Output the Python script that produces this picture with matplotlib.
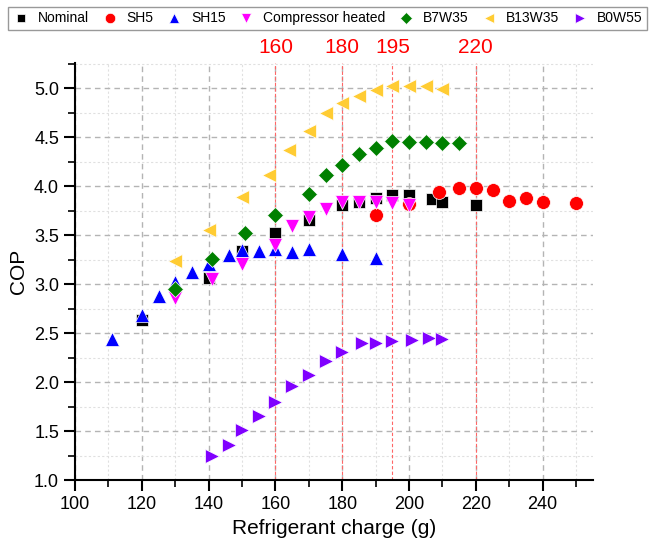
import matplotlib
matplotlib.use("Agg")
import matplotlib.pyplot as plt
from matplotlib.ticker import MultipleLocator
import matplotlib.transforms as mtransforms

plt.rcParams['font.family'] = ['Liberation Sans', 'DejaVu Sans']

# data
nom_x = [120, 140, 150, 160, 170, 180, 185, 190, 195, 200, 207, 210, 220]
nom_y = [2.64, 3.07, 3.34, 3.52, 3.66, 3.81, 3.84, 3.88, 3.91, 3.91, 3.87, 3.84, 3.81]

sh5_x = [190, 200, 209, 215, 220, 225, 230, 235, 240, 250]
sh5_y = [3.71, 3.82, 3.94, 3.98, 3.98, 3.96, 3.85, 3.88, 3.84, 3.83]

sh15_x = [111, 120, 125, 130, 135, 140, 146, 150, 155, 160, 165, 170, 180, 190]
sh15_y = [2.44, 2.69, 2.88, 3.02, 3.13, 3.21, 3.30, 3.35, 3.34, 3.36, 3.33, 3.36, 3.31, 3.27]

comp_x = [130, 141, 150, 160, 165, 170, 175, 180, 185, 190, 195, 200]
comp_y = [2.86, 3.06, 3.21, 3.40, 3.60, 3.69, 3.77, 3.84, 3.84, 3.84, 3.83, 3.81]

b7_x = [130, 141, 151, 160, 170, 175, 180, 185, 190, 195, 200, 205, 210, 215]
b7_y = [2.95, 3.26, 3.52, 3.71, 3.92, 4.12, 4.22, 4.33, 4.39, 4.46, 4.45, 4.45, 4.44, 4.44]

b13_x = [130, 140, 150, 158, 164, 170, 175, 180, 185, 190, 195, 200, 205, 210]
b13_y = [3.24, 3.56, 3.89, 4.12, 4.37, 4.57, 4.75, 4.85, 4.92, 4.98, 5.02, 5.02, 5.02, 4.99]

b0_x = [141, 146, 150, 155, 160, 165, 170, 175, 180, 186, 190, 195, 201, 206, 210]
b0_y = [1.25, 1.36, 1.51, 1.66, 1.80, 1.96, 2.07, 2.22, 2.31, 2.40, 2.40, 2.42, 2.43, 2.45, 2.44]

marks = [160, 180, 195, 220]

fig = plt.figure(figsize=(6.55, 5.5), dpi=100)
ax = fig.add_axes([0.1145, 0.1267, 0.7905, 0.7588])

ax.set_xlim(100, 255)
ax.set_ylim(1.0, 5.26)
ax.xaxis.set_major_locator(MultipleLocator(20))
ax.xaxis.set_minor_locator(MultipleLocator(10))
ax.yaxis.set_major_locator(MultipleLocator(0.5))
ax.yaxis.set_minor_locator(MultipleLocator(0.25))
ax.yaxis.set_major_formatter(matplotlib.ticker.FormatStrFormatter('%.1f'))

ax.grid(which='major', color='#b4b4b4', linestyle=(0, (4, 3)), linewidth=1.0)
ax.grid(which='minor', color='#e0e0e0', linestyle=(0, (2, 2)), linewidth=0.8)
ax.set_axisbelow(True)

for m in marks:
    ax.axvline(m, color='#ff6666', linestyle=(0, (3, 2)), linewidth=0.8, zorder=1)

trans = mtransforms.blended_transform_factory(ax.transData, ax.transAxes)
for m in marks:
    ax.text(m, 1.038, str(m), transform=trans, color='red', fontsize=15,
            ha='center', va='center')

ms = 8.5
ax.plot(nom_x, nom_y, 's', color='black', ms=ms, mec='white', mew=0.5, label='Nominal', zorder=3)
ax.plot(sh5_x, sh5_y, 'o', color='red', ms=ms + 1.5, mec='white', mew=0.5, label='SH5', zorder=3)
ax.plot(sh15_x, sh15_y, '^', color='blue', ms=ms + 1.5, mec='white', mew=0.5, label='SH15', zorder=3)
ax.plot(comp_x, comp_y, 'v', color='#ff00ff', ms=ms + 1.5, mec='white', mew=0.5, label='Compressor heated', zorder=3)
ax.plot(b7_x, b7_y, 'D', color='#008000', ms=ms, mec='white', mew=0.5, label='B7W35', zorder=3)
ax.plot(b13_x, b13_y, '<', color='#ffcc33', ms=ms + 1.5, mec='white', mew=0.5, label='B13W35', zorder=3)
ax.plot(b0_x, b0_y, '>', color='#8000ff', ms=ms + 1.5, mec='white', mew=0.5, label='B0W55', zorder=3)

for s in ['top', 'right']:
    ax.spines[s].set_visible(False)
for s in ['left', 'bottom']:
    ax.spines[s].set_linewidth(1.5)

ax.tick_params(which='major', direction='out', length=8, width=1.5, labelsize=13)
ax.tick_params(which='minor', direction='out', length=5, width=1.2)

ax.set_xlabel('Refrigerant charge (g)', fontsize=15)
ax.set_ylabel('COP', fontsize=15)

fig.legend(loc='upper center', bbox_to_anchor=(0.5, 0.993), ncol=7, fontsize=10,
           frameon=True, fancybox=False, edgecolor='#808080', handletextpad=0.6,
           columnspacing=0.9, handlelength=1.2, borderpad=0.35, markerscale=0.75,
           borderaxespad=0.2)

fig.savefig('out.png', dpi=100)
